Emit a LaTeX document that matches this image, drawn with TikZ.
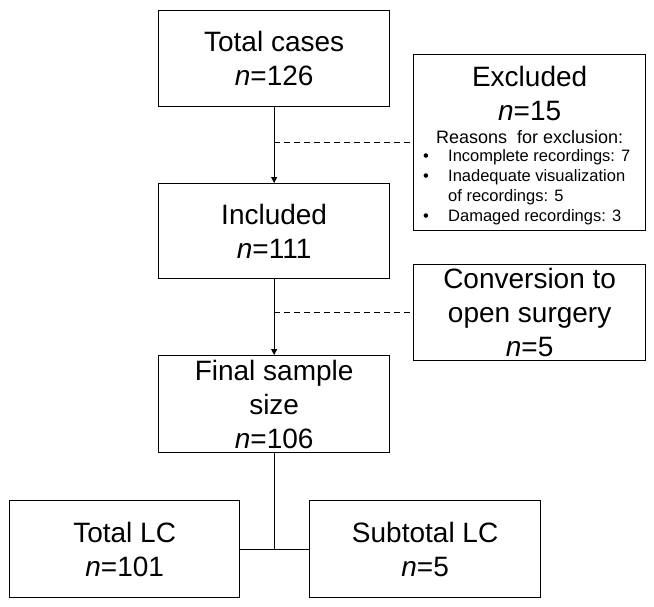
\documentclass[tikz,border=0pt]{standalone}
\usepackage{fontspec}
\setmainfont{Liberation Sans}
\usepackage{tikz}
\usetikzlibrary{arrows.meta, positioning}

\newcommand{\bulletitem}{\makebox[25pt][l]{\textbullet}}
\newcommand{\bulletskip}{\hspace*{25pt}}

\begin{document}
\begin{tikzpicture}[
    x=1pt, y=-1pt,
    font=\fontsize{28}{34}\selectfont,
    box/.style={rectangle, draw=black, line width=1.3pt, fill=white, align=center,
                anchor=north west, inner sep=2pt},
    arrow/.style={-{Triangle[length=6pt, width=6pt]}, line width=1.2pt},
    link/.style={line width=1.2pt},
    dashlink/.style={line width=1.2pt, dash pattern=on 6pt off 4pt},
    reasons/.style={font=\fontsize{16.5}{20}\selectfont, inner sep=0pt}
  ]
    \useasboundingbox (0,0) rectangle (654,606);

    \node[box, minimum width=231pt, minimum height=96pt] (total) at (158,10)
      {Total cases\\\textit{n}=126};
    \node[box, minimum width=231pt, minimum height=95pt] (incl) at (158,183)
      {Included\\\textit{n}=111};
    \node[box, minimum width=231pt, minimum height=97pt] (final) at (158,355)
      {Final sample\\size\\\textit{n}=106};
    \node[box, minimum width=232pt, minimum height=176pt] (excl) at (413,54) {};
    \node[align=center, inner sep=0pt] (excltitle) at ([shift={(0,39)}]excl.north)
      {Excluded\\\textit{n}=15};
    \node[reasons, font=\fontsize{18}{20}\selectfont] (exclwhy)
      at ([shift={(0,83)}]excl.north) {Reasons\ \ for exclusion:};
    \node[reasons, anchor=north west, align=left] (excllist)
      at ([shift={(10,95)}]excl.north west)
      {\bulletitem Incomplete recordings: 7\\
       \bulletitem Inadequate visualization\\
       \bulletskip of recordings: 5\\
       \bulletitem Damaged recordings: 3};
    \node[box, minimum width=232pt, minimum height=96pt] (conv) at (413,264)
      {Conversion to\\open surgery\\\textit{n}=5};
    \node[box, minimum width=230pt, minimum height=97pt] (tlc) at (9,500)
      {Total LC\\\textit{n}=101};
    \node[box, minimum width=231pt, minimum height=97pt] (stlc) at (309,500)
      {Subtotal LC\\\textit{n}=5};

    \draw[arrow] (total.south) -- (incl.north);
    \draw[arrow] (incl.south) -- (final.north);
    \draw[dashlink] (total.south |- excl.west) -- (excl.west);
    \draw[dashlink] (incl.south |- conv.west) -- (conv.west);
    \draw[link] (final.south) -- (final.south |- tlc.east);
    \draw[link] (tlc.east) -- (stlc.west);
\end{tikzpicture}
\end{document}
